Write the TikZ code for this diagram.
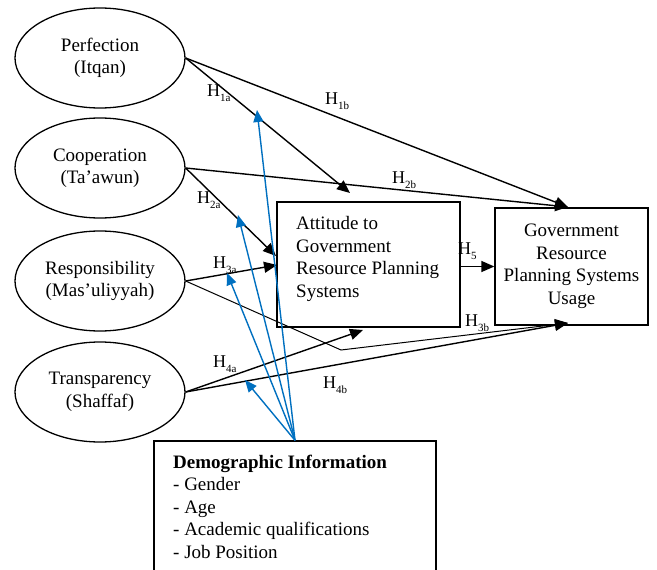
\documentclass[tikz,border=0pt]{standalone}
\usepackage{fontspec}
\setmainfont{Liberation Serif}
\usetikzlibrary{shapes.geometric,arrows.meta,calc}
\definecolor{dblue}{RGB}{0,112,192}
\newcommand{\hyp}[1]{H\raisebox{-4.5pt}{\fontsize{11}{11}\selectfont #1}}
\begin{document}
\begin{tikzpicture}[x=1pt,y=-1pt,
  txt/.style={font=\fontsize{19}{22.5}\selectfont},
  ell/.style={ellipse, draw, line width=1.3pt, minimum width=170pt, minimum height=100pt, align=center, inner sep=0pt, txt},
  box/.style={draw, line width=1.3pt, inner sep=0pt},
  arr/.style={line width=1.4pt, -{Triangle[length=13pt,width=11pt]}},
  thinarr/.style={line width=1pt, -{Triangle[length=13pt,width=11pt]}},
  barr/.style={dblue, line width=1.4pt, -{Triangle[length=12pt,width=10pt]}},
  hl/.style={anchor=base west, inner sep=0pt, font=\fontsize{18}{18}\selectfont}]
\clip (0,0) rectangle (657,570);
\fill[white] (0,0) rectangle (657,570);

\node[ell] (p1) at (100,58) {Perfection\\(Itqan)};
\node[ell] (p2) at (100,168) {Cooperation\\(Ta’awun)};
\node[ell] (p3) at (100,281) {Responsibility\\(Mas’uliyyah)};
\node[ell] (p4) at (100,392) {Transparency\\(Shaffaf)};

\node[box, minimum width=183pt, minimum height=125pt] (att) at (368.5,264.5) {};
\node[anchor=base west, align=left, inner sep=0pt, txt] (atttxt) at (296,297) {Attitude to\\Government\\Resource Planning\\Systems};

\node[box, minimum width=153pt, minimum height=117pt, align=center, txt] (gov) at (571.5,266.5) {Government\\Resource\\Planning Systems\\Usage};

\node[box, minimum width=282pt, minimum height=160pt] (demo) at (295,521) {};
\node[anchor=base west, align=left, inner sep=0pt, txt] (demotxt) at (173,558) {\textbf{Demographic Information}\\- Gender\\- Age\\- Academic qualifications\\- Job Position};

\coordinate (t1a) at (350,193);
\coordinate (t2a) at (276,256);
\coordinate (t3a) at (277,265);
\coordinate (t4a) at (363,330);
\coordinate (g1) at (568,207);
\coordinate (g2) at (568,323);
\coordinate (bend) at (341,350);
\coordinate (b1) at (257,110);
\coordinate (b2) at (238,215);
\coordinate (b3) at (227,273);
\coordinate (b4) at (245,380);

\draw[arr] (p1.east) -- (t1a);
\draw[arr] (p1.east) -- (g1);
\draw[arr] (p2.east) -- (t2a);
\draw[arr] (p2.east) -- (g1);
\draw[arr] (p3.east) -- (t3a);
\draw[thinarr] (p3.east) -- (bend) -- (g2);
\draw[arr] (p4.east) -- (t4a);
\draw[arr] (p4.east) -- (g2);
\draw[arr] (att.east |- gov.west) -- (gov.west);

\draw[barr] (demo.north) -- (b1);
\draw[barr] (demo.north) -- (b2);
\draw[barr] (demo.north) -- (b3);
\draw[barr] (demo.north) -- (b4);

\node[hl] (h1a) at (207,96.5) {\hyp{1a}};
\node[hl] (h1b) at (325,104.5) {\hyp{1b}};
\node[hl] (h2a) at (197,203.5) {\hyp{2a}};
\node[hl] (h2b) at (392,183.5) {\hyp{2b}};
\node[hl] (h3a) at (213,268.5) {\hyp{3a}};
\node[hl] (h3b) at (465,326.5) {\hyp{3b}};
\node[hl] (h4a) at (213,367.5) {\hyp{4a}};
\node[hl] (h4b) at (323,388.5) {\hyp{4b}};
\node[hl] (h5) at (458,254.5) {\hyp{5}};
\end{tikzpicture}
\end{document}
